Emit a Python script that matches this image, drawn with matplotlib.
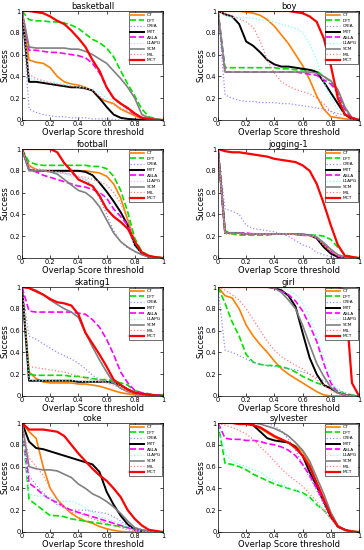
import numpy as np
import matplotlib
matplotlib.use('Agg')
import matplotlib.pyplot as plt

# overlap thresholds 0:0.05:1
thr = np.linspace(0, 1, 21)
trackers = ['CT', 'DFT', 'ORIA', 'MTT', 'ASLA', 'L1APG', 'SCM', 'MIL', 'MCT']

# success rates, one row per tracker (same order as trackers)
basketball = [
    [1, 0.55, 0.53, 0.52, 0.48, 0.40, 0.35, 0.33, 0.32, 0.30, 0.27, 0.20, 0.17, 0.15, 0.10, 0.07, 0.04, 0.01, 0, 0, 0],
    [1, 0.92, 0.91, 0.91, 0.90, 0.90, 0.89, 0.87, 0.84, 0.79, 0.74, 0.71, 0.66, 0.58, 0.45, 0.33, 0.22, 0.10, 0.03, 0.01, 0],
    [1, 0.10, 0.07, 0.05, 0.04, 0.03, 0.03, 0.02, 0.02, 0.02, 0.01, 0.01, 0.01, 0.005, 0, 0, 0, 0, 0, 0, 0],
    [1, 0.35, 0.35, 0.34, 0.33, 0.32, 0.31, 0.30, 0.30, 0.29, 0.27, 0.20, 0.12, 0.05, 0.02, 0.01, 0.005, 0, 0, 0, 0],
    [1, 0.64, 0.64, 0.63, 0.62, 0.62, 0.61, 0.60, 0.59, 0.57, 0.52, 0.43, 0.30, 0.20, 0.15, 0.10, 0.05, 0.02, 0.01, 0, 0],
    [1, 0.38, 0.37, 0.36, 0.35, 0.34, 0.33, 0.32, 0.31, 0.30, 0.28, 0.25, 0.20, 0.17, 0.14, 0.10, 0.06, 0.02, 0.01, 0, 0],
    [1, 0.67, 0.66, 0.66, 0.66, 0.66, 0.66, 0.65, 0.65, 0.63, 0.60, 0.56, 0.52, 0.45, 0.38, 0.30, 0.20, 0.05, 0.02, 0.01, 0],
    [1, 0.42, 0.38, 0.36, 0.34, 0.33, 0.32, 0.31, 0.30, 0.29, 0.27, 0.22, 0.17, 0.14, 0.11, 0.08, 0.05, 0.03, 0.01, 0, 0],
    [1, 1.00, 0.99, 0.98, 0.95, 0.91, 0.88, 0.82, 0.75, 0.67, 0.55, 0.45, 0.30, 0.20, 0.15, 0.11, 0.06, 0.02, 0.01, 0, 0],
]
boy = [
    [1, 1, 1, 1, 0.99, 0.98, 0.96, 0.92, 0.86, 0.78, 0.70, 0.60, 0.50, 0.37, 0.22, 0.10, 0.03, 0.02, 0.01, 0.005, 0],
    [1, 0.48, 0.48, 0.48, 0.48, 0.48, 0.48, 0.48, 0.48, 0.47, 0.47, 0.46, 0.46, 0.46, 0.45, 0.40, 0.35, 0.25, 0.10, 0.02, 0],
    [1, 0.23, 0.20, 0.18, 0.17, 0.17, 0.16, 0.16, 0.16, 0.15, 0.15, 0.14, 0.13, 0.12, 0.11, 0.10, 0.08, 0.06, 0.04, 0.01, 0],
    [1, 0.97, 0.95, 0.88, 0.72, 0.68, 0.62, 0.55, 0.51, 0.49, 0.49, 0.48, 0.47, 0.46, 0.44, 0.35, 0.25, 0.15, 0.05, 0.01, 0],
    [1, 0.44, 0.44, 0.44, 0.44, 0.44, 0.44, 0.44, 0.44, 0.44, 0.44, 0.44, 0.43, 0.42, 0.41, 0.37, 0.33, 0.25, 0.10, 0.02, 0],
    [1, 0.95, 0.94, 0.94, 0.94, 0.93, 0.92, 0.91, 0.90, 0.88, 0.86, 0.84, 0.80, 0.70, 0.55, 0.35, 0.20, 0.10, 0.05, 0.02, 0],
    [1, 0.44, 0.44, 0.44, 0.44, 0.44, 0.44, 0.44, 0.44, 0.44, 0.44, 0.44, 0.44, 0.44, 0.43, 0.40, 0.36, 0.28, 0.12, 0.02, 0],
    [1, 0.97, 0.95, 0.93, 0.90, 0.85, 0.72, 0.55, 0.43, 0.35, 0.31, 0.28, 0.26, 0.24, 0.20, 0.15, 0.08, 0.03, 0.01, 0.005, 0],
    [1, 1, 1, 1, 1, 1, 1, 1, 1, 1, 1, 0.99, 0.98, 0.95, 0.90, 0.75, 0.50, 0.20, 0.05, 0.02, 0],
]
football = [
    [1, 0.85, 0.81, 0.80, 0.80, 0.80, 0.80, 0.80, 0.80, 0.80, 0.79, 0.78, 0.75, 0.68, 0.55, 0.35, 0.15, 0.05, 0.02, 0.01, 0],
    [1, 0.88, 0.86, 0.85, 0.85, 0.85, 0.85, 0.85, 0.85, 0.85, 0.84, 0.84, 0.82, 0.75, 0.62, 0.42, 0.18, 0.06, 0.02, 0.005, 0],
    [1, 0.81, 0.80, 0.80, 0.79, 0.78, 0.78, 0.76, 0.74, 0.72, 0.66, 0.55, 0.40, 0.25, 0.15, 0.09, 0.06, 0.03, 0.01, 0, 0],
    [1, 0.81, 0.80, 0.80, 0.80, 0.80, 0.80, 0.80, 0.80, 0.79, 0.76, 0.69, 0.61, 0.52, 0.42, 0.30, 0.12, 0.04, 0.01, 0.005, 0],
    [1, 0.81, 0.79, 0.76, 0.74, 0.72, 0.70, 0.68, 0.66, 0.65, 0.63, 0.60, 0.55, 0.45, 0.38, 0.30, 0.15, 0.05, 0.01, 0, 0],
    [1, 0.82, 0.81, 0.80, 0.79, 0.78, 0.77, 0.75, 0.73, 0.72, 0.68, 0.60, 0.52, 0.42, 0.35, 0.25, 0.10, 0.03, 0.01, 0, 0],
    [1, 0.80, 0.80, 0.80, 0.79, 0.77, 0.72, 0.67, 0.62, 0.60, 0.55, 0.47, 0.35, 0.23, 0.15, 0.10, 0.06, 0.03, 0.01, 0, 0],
    [1, 0.83, 0.82, 0.81, 0.80, 0.79, 0.78, 0.77, 0.75, 0.74, 0.72, 0.70, 0.67, 0.60, 0.50, 0.35, 0.15, 0.05, 0.02, 0.005, 0],
    [1, 1, 1, 1, 1, 0.97, 0.87, 0.80, 0.72, 0.69, 0.66, 0.57, 0.45, 0.38, 0.33, 0.27, 0.15, 0.05, 0.02, 0.005, 0],
]
jogging = [
    [1, 0.23, 0.23, 0.23, 0.22, 0.22, 0.22, 0.22, 0.22, 0.22, 0.22, 0.22, 0.21, 0.21, 0.19, 0.12, 0.05, 0.01, 0, 0, 0],
    [1, 0.25, 0.22, 0.21, 0.21, 0.21, 0.21, 0.21, 0.22, 0.22, 0.22, 0.22, 0.21, 0.21, 0.21, 0.20, 0.17, 0.10, 0.03, 0.01, 0],
    [1, 0.45, 0.43, 0.40, 0.30, 0.27, 0.26, 0.25, 0.24, 0.22, 0.20, 0.16, 0.12, 0.10, 0.05, 0.03, 0.01, 0, 0, 0, 0],
    [1, 0.23, 0.23, 0.23, 0.22, 0.22, 0.22, 0.22, 0.22, 0.22, 0.22, 0.22, 0.21, 0.21, 0.18, 0.10, 0.04, 0.01, 0, 0, 0],
    [1, 0.23, 0.23, 0.23, 0.23, 0.22, 0.22, 0.22, 0.22, 0.22, 0.22, 0.22, 0.22, 0.21, 0.19, 0.13, 0.06, 0.02, 0, 0, 0],
    [1, 0.23, 0.23, 0.23, 0.22, 0.22, 0.22, 0.22, 0.22, 0.22, 0.22, 0.22, 0.21, 0.21, 0.20, 0.15, 0.08, 0.03, 0.01, 0, 0],
    [1, 0.23, 0.23, 0.23, 0.22, 0.22, 0.22, 0.22, 0.22, 0.22, 0.22, 0.22, 0.21, 0.21, 0.19, 0.14, 0.08, 0.03, 0.01, 0, 0],
    [1, 0.22, 0.22, 0.22, 0.22, 0.22, 0.22, 0.22, 0.22, 0.22, 0.22, 0.21, 0.21, 0.20, 0.18, 0.12, 0.06, 0.02, 0, 0, 0],
    [1, 0.98, 0.97, 0.97, 0.96, 0.95, 0.94, 0.93, 0.91, 0.90, 0.89, 0.88, 0.85, 0.80, 0.68, 0.50, 0.30, 0.12, 0.02, 0.01, 0],
]
skating = [
    [1, 0.22, 0.16, 0.13, 0.12, 0.12, 0.12, 0.12, 0.11, 0.11, 0.10, 0.09, 0.07, 0.05, 0.03, 0.02, 0.01, 0.005, 0, 0, 0],
    [1, 0.20, 0.19, 0.19, 0.19, 0.19, 0.19, 0.18, 0.18, 0.17, 0.16, 0.15, 0.15, 0.14, 0.12, 0.10, 0.05, 0.03, 0.01, 0.01, 0.01],
    [1, 0.55, 0.52, 0.48, 0.44, 0.40, 0.37, 0.34, 0.30, 0.25, 0.19, 0.15, 0.14, 0.12, 0.08, 0.04, 0.02, 0.01, 0.005, 0, 0],
    [1, 0.14, 0.14, 0.14, 0.14, 0.14, 0.14, 0.14, 0.13, 0.13, 0.13, 0.13, 0.13, 0.12, 0.10, 0.06, 0.03, 0.02, 0.01, 0.005, 0],
    [1, 0.78, 0.77, 0.77, 0.77, 0.77, 0.77, 0.77, 0.76, 0.75, 0.70, 0.63, 0.52, 0.38, 0.22, 0.12, 0.05, 0.03, 0.02, 0.01, 0],
    [1, 0.15, 0.14, 0.14, 0.14, 0.14, 0.14, 0.14, 0.14, 0.13, 0.13, 0.13, 0.13, 0.12, 0.10, 0.06, 0.03, 0.02, 0.01, 0, 0],
    [1, 0.99, 0.97, 0.93, 0.88, 0.84, 0.80, 0.77, 0.72, 0.58, 0.45, 0.33, 0.22, 0.12, 0.07, 0.04, 0.02, 0.01, 0.005, 0, 0],
    [1, 0.27, 0.26, 0.25, 0.24, 0.23, 0.22, 0.20, 0.18, 0.16, 0.15, 0.14, 0.12, 0.10, 0.07, 0.04, 0.02, 0.01, 0, 0, 0],
    [1, 0.99, 0.96, 0.93, 0.89, 0.86, 0.85, 0.83, 0.75, 0.58, 0.48, 0.38, 0.27, 0.15, 0.10, 0.06, 0.03, 0.02, 0.01, 0.005, 0],
]
girl = [
    [1, 0.92, 0.90, 0.80, 0.65, 0.55, 0.47, 0.40, 0.32, 0.25, 0.20, 0.16, 0.12, 0.08, 0.04, 0.01, 0, 0, 0, 0, 0],
    [1, 0.85, 0.68, 0.55, 0.38, 0.31, 0.29, 0.28, 0.28, 0.27, 0.25, 0.22, 0.18, 0.15, 0.12, 0.10, 0.07, 0.05, 0.02, 0.01, 0],
    [1, 0.42, 0.40, 0.37, 0.34, 0.31, 0.29, 0.28, 0.27, 0.26, 0.25, 0.24, 0.22, 0.20, 0.17, 0.14, 0.10, 0.06, 0.03, 0.01, 0],
    [1, 1, 1, 1, 1, 1, 1, 1, 0.99, 0.97, 0.92, 0.82, 0.58, 0.35, 0.20, 0.10, 0.07, 0.03, 0.01, 0, 0],
    [1, 1, 1, 1, 1, 1, 1, 1, 0.99, 0.96, 0.93, 0.87, 0.78, 0.65, 0.50, 0.30, 0.12, 0.03, 0.01, 0, 0],
    [1, 1, 1, 1, 1, 1, 1, 1, 1, 0.99, 0.97, 0.93, 0.85, 0.72, 0.55, 0.35, 0.15, 0.05, 0.01, 0, 0],
    [1, 1, 1, 1, 1, 1, 1, 1, 0.99, 0.95, 0.88, 0.80, 0.65, 0.47, 0.30, 0.18, 0.08, 0.03, 0.01, 0, 0],
    [1, 0.97, 0.93, 0.88, 0.80, 0.70, 0.60, 0.50, 0.42, 0.36, 0.32, 0.28, 0.25, 0.20, 0.15, 0.10, 0.05, 0.02, 0.01, 0, 0],
    [1, 1, 1, 1, 1, 1, 1, 1, 1, 1, 1, 1, 1, 1, 1, 1, 1, 1, 0.97, 0.12, 0],
]
coke = [
    [1, 0.92, 0.86, 0.60, 0.40, 0.30, 0.23, 0.17, 0.13, 0.10, 0.08, 0.05, 0.03, 0.015, 0.005, 0, 0, 0, 0, 0, 0],
    [1, 0.30, 0.25, 0.20, 0.15, 0.15, 0.14, 0.12, 0.11, 0.10, 0.09, 0.08, 0.07, 0.06, 0.05, 0.04, 0.03, 0.02, 0.01, 0.005, 0],
    [1, 0.52, 0.43, 0.36, 0.30, 0.25, 0.22, 0.20, 0.20, 0.20, 0.19, 0.18, 0.17, 0.14, 0.10, 0.06, 0.03, 0.01, 0, 0, 0],
    [1, 0.83, 0.77, 0.76, 0.74, 0.72, 0.70, 0.68, 0.66, 0.64, 0.62, 0.55, 0.37, 0.25, 0.15, 0.07, 0.02, 0.01, 0, 0, 0],
    [1, 0.45, 0.40, 0.34, 0.30, 0.27, 0.23, 0.20, 0.18, 0.16, 0.14, 0.12, 0.10, 0.08, 0.06, 0.04, 0.02, 0.01, 0, 0, 0],
    [1, 0.35, 0.33, 0.33, 0.32, 0.29, 0.28, 0.28, 0.26, 0.22, 0.18, 0.14, 0.12, 0.10, 0.08, 0.05, 0.02, 0.01, 0, 0, 0],
    [1, 0.60, 0.58, 0.57, 0.57, 0.56, 0.53, 0.50, 0.44, 0.40, 0.35, 0.32, 0.28, 0.23, 0.17, 0.10, 0.04, 0.02, 0.01, 0, 0],
    [1, 0.68, 0.60, 0.52, 0.40, 0.30, 0.22, 0.18, 0.17, 0.15, 0.12, 0.10, 0.08, 0.06, 0.04, 0.02, 0.01, 0, 0, 0, 0],
    [1, 0.94, 0.94, 0.94, 0.93, 0.92, 0.88, 0.80, 0.72, 0.65, 0.58, 0.52, 0.47, 0.40, 0.32, 0.20, 0.12, 0.06, 0.02, 0.01, 0],
]
sylvester = [
    [1, 1, 1, 1, 0.99, 0.98, 0.95, 0.91, 0.87, 0.84, 0.82, 0.79, 0.74, 0.62, 0.45, 0.30, 0.15, 0.05, 0.02, 0.005, 0],
    [1, 0.63, 0.62, 0.60, 0.57, 0.53, 0.50, 0.47, 0.44, 0.42, 0.40, 0.38, 0.36, 0.32, 0.25, 0.20, 0.13, 0.05, 0.02, 0.01, 0],
    [1, 1, 1, 1, 1, 1, 1, 1, 0.97, 0.93, 0.85, 0.75, 0.62, 0.50, 0.38, 0.25, 0.12, 0.04, 0.01, 0, 0],
    [1, 1, 1, 1, 1, 0.98, 0.92, 0.86, 0.84, 0.83, 0.82, 0.78, 0.70, 0.55, 0.42, 0.28, 0.14, 0.05, 0.02, 0, 0],
    [1, 0.86, 0.85, 0.85, 0.84, 0.84, 0.83, 0.81, 0.80, 0.78, 0.75, 0.70, 0.62, 0.52, 0.40, 0.28, 0.15, 0.05, 0.02, 0, 0],
    [1, 0.72, 0.65, 0.62, 0.60, 0.57, 0.55, 0.50, 0.47, 0.44, 0.40, 0.38, 0.35, 0.30, 0.25, 0.20, 0.12, 0.04, 0.01, 0, 0],
    [1, 1, 1, 1, 1, 1, 0.99, 0.97, 0.95, 0.92, 0.88, 0.82, 0.75, 0.65, 0.50, 0.35, 0.18, 0.06, 0.02, 0, 0],
    [1, 0.98, 0.96, 0.93, 0.90, 0.85, 0.78, 0.72, 0.65, 0.58, 0.52, 0.47, 0.42, 0.35, 0.28, 0.20, 0.12, 0.05, 0.02, 0, 0],
    [1, 1, 1, 0.99, 0.99, 0.98, 0.96, 0.92, 0.88, 0.85, 0.82, 0.77, 0.70, 0.60, 0.45, 0.30, 0.15, 0.05, 0.02, 0.005, 0],
]

titles = ['basketball', 'boy', 'football', 'jogging-1', 'skating1', 'girl', 'coke', 'sylvester']
sequences = [basketball, boy, football, jogging, skating, girl, coke, sylvester]

# line styles, MATLAB-ish
colors = ['#FF8000', '#00E000', '#9090FF', 'black', '#FF00FF', '#80FFFF', 'gray', '#FF8080', 'red']
styles = ['-', '--', ':', '-', '--', ':', '-', ':', '-']
widths = [1.2, 1.2, 0.9, 1.4, 1.2, 0.9, 1.2, 0.9, 1.6]

fig = plt.figure(figsize=(3.64, 5.5), dpi=100)
lefts = [22/364, 218/364]
bottoms = [430/550, 292/550, 154/550, 18/550]
w, h = 141/364, 109/550

for i, (name, data) in enumerate(zip(titles, sequences)):
    ax = fig.add_axes([lefts[i % 2], bottoms[i // 2], w, h])
    for k in range(len(trackers)):
        ax.plot(thr, data[k], color=colors[k], linestyle=styles[k], lw=widths[k], label=trackers[k])
    ax.set_xlim(0, 1)
    ax.set_ylim(0, 1)
    ax.set_xticks([0, 0.2, 0.4, 0.6, 0.8, 1])
    ax.set_xticklabels(['0', '0.2', '0.4', '0.6', '0.8', '1'])
    ax.set_yticks([0, 0.2, 0.4, 0.6, 0.8, 1])
    ax.set_yticklabels(['0', '0.2', '0.4', '0.6', '0.8', '1'])
    ax.tick_params(direction='in', length=2, width=0.5, labelsize=4.8, pad=1, top=True, right=True)
    for s in ax.spines.values():
        s.set_linewidth(0.5)
    ax.set_title(name, fontsize=6, pad=1.5)
    ax.set_xlabel('Overlap Score threshold', fontsize=6, labelpad=0.5)
    ax.set_ylabel('Success', fontsize=6, labelpad=0)
    leg = ax.legend(loc='upper right', fontsize=3.2, handlelength=3.2, labelspacing=0.35,
                    borderpad=0.3, handletextpad=0.6, borderaxespad=0.15, fancybox=False, framealpha=1)
    leg.get_frame().set_edgecolor('black')
    leg.get_frame().set_linewidth(0.4)

fig.savefig('out.png', dpi=100)
